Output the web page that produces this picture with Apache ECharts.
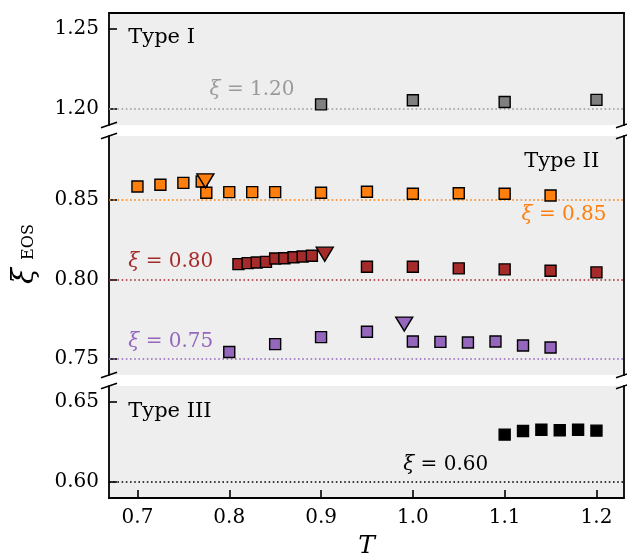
<!DOCTYPE html>
<html>
<head>
<meta charset="utf-8">
<script src="https://cdn.jsdelivr.net/npm/echarts@6/dist/echarts.min.js"></script>
<style>
  html, body { margin: 0; padding: 0; background: #ffffff; }
  #chart { width: 627px; height: 556px; }
</style>
</head>
<body>
<div id="chart"></div>
<script>
// ---- data ----
const tTicks = [0.7, 0.8, 0.9, 1.0, 1.1, 1.2];
const yTicksTop = [1.20, 1.25];
const yTicksMid = [0.75, 0.80, 0.85];
const yTicksLow = [0.60, 0.65];

const xiLevels = [1.20, 0.85, 0.80, 0.75, 0.60];

// Type I (xi = 1.20)
const grayT  = [0.9, 1.0, 1.1, 1.2];
const grayXi = [1.2029, 1.2055, 1.2044, 1.2057];

// Type II (xi = 0.85)
const orangeT  = [0.7, 0.725, 0.75, 0.77, 0.775, 0.8, 0.825, 0.85, 0.9, 0.95, 1.0, 1.05, 1.1, 1.15];
const orangeXi = [0.8583, 0.8594, 0.8606, 0.8614, 0.8544, 0.8548, 0.8548, 0.8548, 0.8544, 0.8550, 0.8538, 0.8541, 0.8538, 0.8527];
const orangeTriT  = [0.774];
const orangeTriXi = [0.8619];

// Type II (xi = 0.80)
const redT  = [0.81, 0.82, 0.83, 0.84, 0.85, 0.86, 0.87, 0.88, 0.89, 0.95, 1.0, 1.05, 1.1, 1.15, 1.2];
const redXi = [0.8096, 0.8102, 0.8106, 0.8110, 0.8131, 0.8133, 0.8139, 0.8144, 0.8148, 0.8079, 0.8079, 0.8069, 0.8063, 0.8054, 0.8044];
const redTriT  = [0.904];
const redTriXi = [0.8158];

// Type II (xi = 0.75)
const purpleT  = [0.8, 0.85, 0.9, 0.95, 1.0, 1.03, 1.06, 1.09, 1.12, 1.15];
const purpleXi = [0.7544, 0.7594, 0.7638, 0.7671, 0.7610, 0.7608, 0.7604, 0.7610, 0.7585, 0.7573];
const purpleTriT  = [0.9906];
const purpleTriXi = [0.7720];

// Type III (xi = 0.60)
const blackT  = [1.1, 1.12, 1.14, 1.16, 1.18, 1.2];
const blackXi = [0.6296, 0.6319, 0.6327, 0.6323, 0.6327, 0.6321];

// ---- layout ----
const W = 627;
const LEFT = 109, RIGHT_EDGE = 624;
const panels = [
  { top: 13,  height: 112, min: 1.19, max: 1.26, ticks: yTicksTop },
  { top: 136, height: 239, min: 0.74, max: 0.89, ticks: yTicksMid },
  { top: 386, height: 112, min: 0.59, max: 0.66, ticks: yTicksLow }
];
const T_MIN = 0.669, T_MAX = 1.23;

const FONT = "'DejaVu Serif', serif";
const AXIS_W = 1.8;
const INK = '#000000';

const COLORS = {
  gray: '#808080', grayLine: '#9a9a9a',
  orange: '#ff7f0e', red: '#a52a2a', purple: '#9467bd', black: '#000000'
};

const zip = (a, b) => a.map((v, i) => [v, b[i]]);

// ---- axes ----
const grids = panels.map(p => ({
  left: LEFT, right: W - RIGHT_EDGE, top: p.top, height: p.height,
  show: true, backgroundColor: '#eeeeee', borderWidth: 0, containLabel: false
}));

const xAxes = [
  { gridIndex: 0, type: 'value', min: T_MIN, max: T_MAX, position: 'top',
    axisLine: { show: true, onZero: false, lineStyle: { color: INK, width: AXIS_W } },
    axisTick: { show: false }, axisLabel: { show: false }, splitLine: { show: false } },
  { gridIndex: 1, type: 'value', min: T_MIN, max: T_MAX, show: false },
  { gridIndex: 2, type: 'value', min: T_MIN, max: T_MAX, position: 'bottom',
    axisLine: { show: true, onZero: false, lineStyle: { color: INK, width: AXIS_W } },
    axisTick: { show: true, inside: true, length: 8, customValues: tTicks,
                lineStyle: { color: INK, width: 1.6 } },
    axisLabel: { show: true, customValues: tTicks, margin: 10,
                 formatter: v => v.toFixed(1),
                 fontFamily: FONT, fontSize: 20, color: INK },
    splitLine: { show: false } }
];

const yAxes = [];
panels.forEach((p, i) => {
  yAxes.push({
    gridIndex: i, type: 'value', min: p.min, max: p.max, position: 'left',
    axisLine: { show: true, onZero: false, lineStyle: { color: INK, width: AXIS_W } },
    axisTick: { show: true, inside: true, length: 8, customValues: p.ticks,
                lineStyle: { color: INK, width: 1.6 } },
    axisLabel: { show: true, customValues: p.ticks, margin: 10,
                 formatter: v => v.toFixed(2),
                 fontFamily: FONT, fontSize: 20, color: INK },
    splitLine: { show: false }
  });
  yAxes.push({
    gridIndex: i, type: 'value', min: p.min, max: p.max, position: 'right',
    axisLine: { show: true, onZero: false, lineStyle: { color: INK, width: AXIS_W } },
    axisTick: { show: false }, axisLabel: { show: false }, splitLine: { show: false }
  });
});

// ---- series helpers ----
function refLine(value, color) {
  return {
    silent: true, symbol: 'none', z: 1,
    label: { show: false },
    lineStyle: { color: color, width: 1.6, type: [1.6, 2.6], opacity: 1 },
    emphasis: { disabled: true },
    data: [{ yAxis: value }]
  };
}

function squares(panel, t, xi, color, edge, size, level, lineColor) {
  const s = {
    type: 'scatter', xAxisIndex: panel, yAxisIndex: panel * 2,
    data: zip(t, xi), symbol: 'rect', symbolSize: size, z: 3,
    itemStyle: { color: color, borderColor: edge, borderWidth: 1.4, opacity: 1 },
    emphasis: { disabled: true }, silent: true
  };
  if (level !== undefined) s.markLine = refLine(level, lineColor);
  return s;
}

function triangles(panel, t, xi, color) {
  return {
    type: 'scatter', xAxisIndex: panel, yAxisIndex: panel * 2,
    data: zip(t, xi), symbol: 'triangle', symbolSize: [17, 14], symbolRotate: 180, z: 4,
    itemStyle: { color: color, borderColor: '#000', borderWidth: 1.4, opacity: 1 },
    emphasis: { disabled: true }, silent: true
  };
}

// text placed in data coordinates; pos: 'right' = starts at x, 'left' = ends at x, 'inside' = centred
function textAt(panel, x, y, color, italicPart, rest, pos, size) {
  const fs = size || 20;
  const txt = italicPart ? '{i|' + italicPart + '}{n|' + rest + '}' : '{n|' + rest + '}';
  return {
    type: 'scatter', xAxisIndex: panel, yAxisIndex: panel * 2,
    data: [[x, y]], symbol: 'circle', symbolSize: 0, z: 5, silent: true,
    itemStyle: { color: color, opacity: 1 },
    label: {
      show: true, position: pos, distance: 0, opacity: 1,
      formatter: txt,
      rich: {
        i: { fontFamily: FONT, fontStyle: 'italic', fontSize: fs, color: color, opacity: 1 },
        n: { fontFamily: FONT, fontSize: fs, color: color, opacity: 1 }
      }
    },
    emphasis: { disabled: true }
  };
}

const series = [
  squares(0, grayT, grayXi, COLORS.gray, '#000', 11, xiLevels[0], COLORS.grayLine),
  squares(1, orangeT, orangeXi, COLORS.orange, '#000', 11, xiLevels[1], COLORS.orange),
  triangles(1, orangeTriT, orangeTriXi, COLORS.orange),
  squares(1, redT, redXi, COLORS.red, '#000', 11, xiLevels[2], COLORS.red),
  triangles(1, redTriT, redTriXi, COLORS.red),
  squares(1, purpleT, purpleXi, COLORS.purple, '#000', 11, xiLevels[3], COLORS.purple),
  triangles(1, purpleTriT, purpleTriXi, COLORS.purple),
  squares(2, blackT, blackXi, COLORS.black, '#000', 11, xiLevels[4], COLORS.black),

  textAt(0, 0.690, 1.2444, INK, null, 'Type I', 'right', 21),
  textAt(0, 0.8248, 1.2117, COLORS.grayLine, 'ξ', ' = ' + xiLevels[0].toFixed(2), 'inside'),
  textAt(1, 1.203, 0.8741, INK, null, 'Type II', 'left', 21),
  textAt(1, 1.211, 0.8406, COLORS.orange, 'ξ', ' = ' + xiLevels[1].toFixed(2), 'left'),
  textAt(1, 0.690, 0.8110, COLORS.red, 'ξ', ' = ' + xiLevels[2].toFixed(2), 'right'),
  textAt(1, 0.690, 0.7610, COLORS.purple, 'ξ', ' = ' + xiLevels[3].toFixed(2), 'right'),
  textAt(2, 0.690, 0.6441, INK, null, 'Type III', 'right', 21),
  textAt(2, 1.0358, 0.6108, INK, 'ξ', ' = ' + xiLevels[4].toFixed(2), 'inside')
];

// ---- break marks and axis titles ----
const graphics = [];
function breakMark(x, y) {
  graphics.push({
    type: 'line', silent: true, z: 10,
    shape: { x1: x - 8, y1: y + 2.7, x2: x + 8, y2: y - 2.7 },
    style: { stroke: INK, lineWidth: 1.6 }
  });
}
for (let i = 0; i < panels.length - 1; i++) {
  const yBottom = panels[i].top + panels[i].height;
  const yTop = panels[i + 1].top;
  [LEFT, RIGHT_EDGE].forEach(x => { breakMark(x, yBottom); breakMark(x, yTop); });
}

graphics.push({
  type: 'text', x: 25, y: 276, rotation: Math.PI / 2, silent: true,
  style: { text: 'ξ', font: "italic 29px 'DejaVu Serif', serif", fill: INK,
           align: 'center', verticalAlign: 'middle' }
});
graphics.push({
  type: 'text', x: 29, y: 242, rotation: Math.PI / 2, silent: true,
  style: { text: 'EOS', font: "16px 'DejaVu Serif', serif", fill: INK,
           align: 'center', verticalAlign: 'middle' }
});
graphics.push({
  type: 'text', x: (LEFT + RIGHT_EDGE) / 2, y: 546, silent: true,
  style: { text: 'T', font: "italic 25px 'DejaVu Serif', serif", fill: INK,
           align: 'center', verticalAlign: 'middle' }
});

const chart = echarts.init(document.getElementById('chart'), null, { renderer: 'canvas' });
chart.setOption({
  animation: false,
  backgroundColor: '#ffffff',
  grid: grids,
  xAxis: xAxes,
  yAxis: yAxes,
  series: series,
  graphic: graphics
});
</script>
</body>
</html>
